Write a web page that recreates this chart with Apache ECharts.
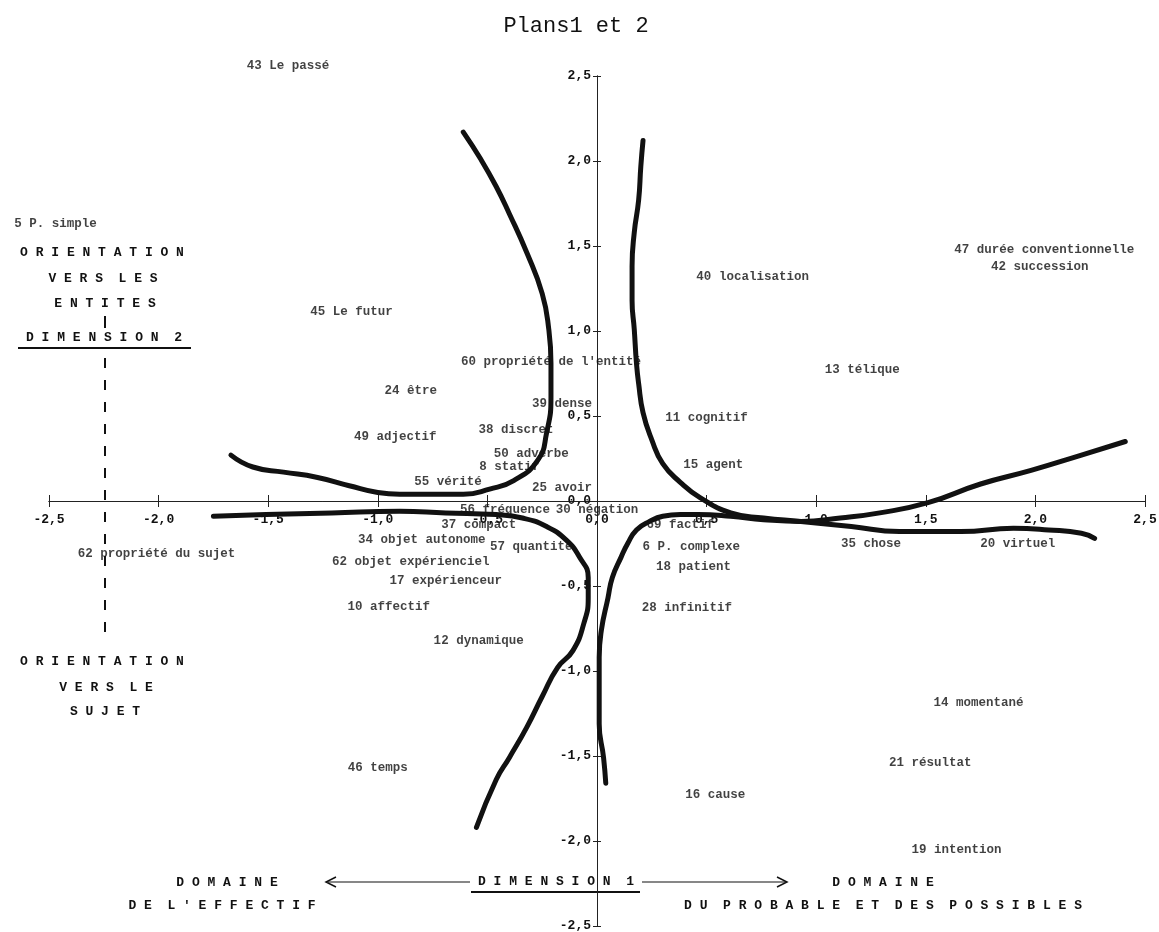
<!DOCTYPE html>
<html>
<head>
<meta charset="utf-8">
<script src="https://cdn.jsdelivr.net/npm/echarts@6/dist/echarts.min.js"></script>
<style>
  html, body { margin: 0; padding: 0; background: #fff; }
  #plan { width: 1159px; height: 932px; }
</style>
</head>
<body>
<div id="plan"></div>
<script>
// libellés des modalités et leurs coordonnées (dimension 1, dimension 2)
var pointNames = [
  "43 Le passé", "5 P. simple", "45 Le futur", "40 localisation",
  "47 durée conventionnelle", "42 succession", "13 télique",
  "60 propriété de l'entité", "24 être", "39 dense", "11 cognitif",
  "38 discret", "49 adjectif", "50 adverbe", "15 agent", "8 statif",
  "55 vérité", "25 avoir", "56 fréquence", "30 négation", "37 compact",
  "69 factif", "34 objet autonome", "57 quantité", "6 P. complexe",
  "62 propriété du sujet", "62 objet expérienciel", "17 expérienceur",
  "18 patient", "10 affectif", "28 infinitif", "12 dynamique",
  "35 chose", "20 virtuel", "14 momentané", "21 résultat",
  "19 intention", "46 temps", "16 cause"
];
var pointX = [
  -1.41, -2.47, -1.12, 0.71, 2.04, 2.02, 1.21,
  -0.21, -0.85, -0.16, 0.50, -0.37, -0.92, -0.30, 0.53, -0.40,
  -0.68, -0.16, -0.42, 0.00, -0.54, 0.38, -0.80, -0.30, 0.43,
  -2.01, -0.85, -0.69, 0.44, -0.95, 0.41, -0.54,
  1.25, 1.92, 1.74, 1.52, 1.64, -1.00, 0.54
];
var pointY = [
  2.56, 1.63, 1.11, 1.32, 1.48, 1.38, 0.77,
  0.82, 0.65, 0.57, 0.49, 0.42, 0.38, 0.28, 0.21, 0.20,
  0.11, 0.08, -0.05, -0.05, -0.14, -0.14, -0.23, -0.27, -0.27,
  -0.31, -0.36, -0.47, -0.39, -0.62, -0.63, -0.82,
  -0.25, -0.25, -1.19, -1.54, -2.05, -1.57, -1.73
];

// courbes tracées à la main (haut gauche, haut droite, bas gauche, bas droite)
var curveA = [[-0.61,2.17],[-0.53,2.01],[-0.46,1.85],[-0.40,1.69],[-0.32,1.46],[-0.25,1.22],[-0.22,1.01],[-0.21,0.81],[-0.21,0.61],[-0.23,0.40],[-0.27,0.24],[-0.38,0.12],[-0.49,0.07],[-0.61,0.04],[-0.76,0.04],[-0.90,0.04],[-1.00,0.05],[-1.13,0.09],[-1.28,0.14],[-1.43,0.17],[-1.57,0.20],[-1.67,0.27]];
var curveB = [[0.21,2.12],[0.20,1.97],[0.19,1.77],[0.17,1.58],[0.16,1.38],[0.16,1.18],[0.17,1.01],[0.18,0.81],[0.19,0.69],[0.21,0.52],[0.25,0.36],[0.30,0.22],[0.38,0.11],[0.47,0.02],[0.61,-0.07],[0.76,-0.10],[0.93,-0.12],[1.16,-0.15],[1.38,-0.18],[1.66,-0.18],[1.90,-0.16],[2.06,-0.17],[2.21,-0.19],[2.27,-0.22]];
var curveC = [[-1.75,-0.09],[-1.51,-0.08],[-1.21,-0.07],[-0.90,-0.06],[-0.69,-0.07],[-0.46,-0.08],[-0.34,-0.10],[-0.23,-0.15],[-0.14,-0.23],[-0.08,-0.33],[-0.04,-0.45],[-0.04,-0.57],[-0.06,-0.72],[-0.11,-0.88],[-0.18,-0.98],[-0.25,-1.15],[-0.32,-1.33],[-0.40,-1.51],[-0.46,-1.64],[-0.55,-1.92]];
var curveD = [[0.04,-1.66],[0.03,-1.51],[0.01,-1.31],[0.01,-1.11],[0.01,-0.92],[0.02,-0.76],[0.05,-0.57],[0.07,-0.45],[0.11,-0.33],[0.14,-0.25],[0.18,-0.17],[0.24,-0.12],[0.30,-0.09],[0.38,-0.08],[0.46,-0.08],[0.61,-0.09],[0.76,-0.11],[0.93,-0.12],[1.11,-0.10],[1.29,-0.07],[1.51,-0.01],[1.75,0.10],[1.98,0.18],[2.21,0.27],[2.41,0.35]];

var tickLabels = ["-2,5", "-2,0", "-1,5", "-1,0", "-0,5", "0,0", "0,5", "1,0", "1,5", "2,0", "2,5"];

var mono = '"Liberation Mono", "DejaVu Sans Mono", monospace';
var ink = '#111';

function spaced(s) {
  // lettres espacées comme sur la machine à écrire
  return s.split(' ').map(function (w) { return w.split('').join(' '); }).join('  ');
}

function fmt(v) {
  return tickLabels[Math.round((v + 2.5) * 2)];
}

var W = 1159, H = 932;
var gLeft = 49, gRight = 14, gTop = 76, gBottom = 6;
// les axes se croisent en 0 : on les décale vers le centre de la grille
var halfW = (W - gLeft - gRight) / 2;
var halfH = (H - gTop - gBottom) / 2;

var chart = echarts.init(document.getElementById('plan'));

function xAx(pos, withLabels) {
  return {
    type: 'value', position: pos, offset: -halfH, min: -2.5, max: 2.5, interval: 0.5,
    axisLine: { onZero: false, lineStyle: { color: '#222', width: 1 } },
    axisTick: { show: true, length: 6, lineStyle: { color: '#222' } },
    axisLabel: { show: withLabels, margin: 12, formatter: fmt, color: ink, fontFamily: mono, fontWeight: 'bold', fontSize: 13 },
    splitLine: { show: false }
  };
}
function yAx(pos, withLabels) {
  return {
    type: 'value', position: pos, offset: -halfW, min: -2.5, max: 2.5, interval: 0.5,
    axisLine: { onZero: false, lineStyle: { color: '#222', width: 1 } },
    axisTick: { show: true, length: 4, lineStyle: { color: '#222' } },
    axisLabel: { show: withLabels, margin: 6, formatter: fmt, color: ink, fontFamily: mono, fontWeight: 'bold', fontSize: 13 },
    splitLine: { show: false }
  };
}

function curve(name, data) {
  return {
    name: name, type: 'line', data: data, smooth: true, showSymbol: false, silent: true,
    lineStyle: { color: ink, width: 5, cap: 'round', join: 'round' }, z: 3
  };
}

var points = pointNames.map(function (n, i) {
  return { name: n, value: [pointX[i], pointY[i]] };
});

function txt(s, x, y, size, weight) {
  return {
    type: 'text', x: x, y: y, silent: true,
    style: { text: s, font: (weight || 'bold') + ' ' + (size || 13) + 'px ' + mono, fill: ink, textAlign: 'center', textVerticalAlign: 'middle' }
  };
}
function seg(x1, y1, x2, y2, w, dash) {
  return {
    type: 'line', silent: true, shape: { x1: x1, y1: y1, x2: x2, y2: y2 },
    style: { stroke: ink, lineWidth: w || 1.5, lineDash: dash || null }
  };
}

chart.setOption({
  animation: false,
  grid: { left: gLeft, right: gRight, top: gTop, bottom: gBottom, containLabel: false, outerBoundsMode: 'none' },
  xAxis: [xAx('bottom', true), xAx('top', false)],
  yAxis: [yAx('left', true), yAx('right', false)],
  series: [
    curve('A', curveA), curve('B', curveB), curve('C', curveC), curve('D', curveD),
    {
      name: 'modalités', type: 'scatter', data: points, symbolSize: 1, clip: false, silent: true,
      itemStyle: { color: 'rgba(0,0,0,0)' },
      label: { show: true, position: 'inside', formatter: '{b}', color: ink, fontFamily: mono, fontWeight: 'bold', fontSize: 12.5 },
      z: 4
    }
  ],
  graphic: [
    txt('Plans1 et 2', 576, 26, 22, 'normal'),
    txt(spaced('ORIENTATION'), 102, 253),
    txt(spaced('VERS LES'), 103, 279),
    txt(spaced('ENTITES'), 105, 304),
    seg(105, 316, 105, 328, 2),
    txt(spaced('DIMENSION 2'), 104, 338),
    seg(18, 348, 191, 348, 2),
    seg(105, 358, 105, 634, 2, [10, 12]),
    txt(spaced('ORIENTATION'), 102, 662),
    txt(spaced('VERS LE'), 106, 688),
    txt(spaced('SUJET'), 105, 712),
    txt(spaced('DOMAINE'), 227, 883),
    txt(spaced("DE L'EFFECTIF"), 222, 906),
    seg(328, 882, 470, 882, 1.2),
    { type: 'polyline', silent: true, shape: { points: [[336, 877], [326, 882], [336, 887]] }, style: { stroke: ink, fill: null, lineWidth: 1.5 } },
    txt(spaced('DIMENSION 1'), 556, 882),
    seg(471, 892, 640, 892, 2),
    seg(642, 882, 786, 882, 1.2),
    { type: 'polyline', silent: true, shape: { points: [[777, 877], [787, 882], [777, 887]] }, style: { stroke: ink, fill: null, lineWidth: 1.5 } },
    txt(spaced('DOMAINE'), 883, 883),
    txt(spaced('DU PROBABLE ET DES POSSIBLES'), 883, 906)
  ]
});
</script>
</body>
</html>
